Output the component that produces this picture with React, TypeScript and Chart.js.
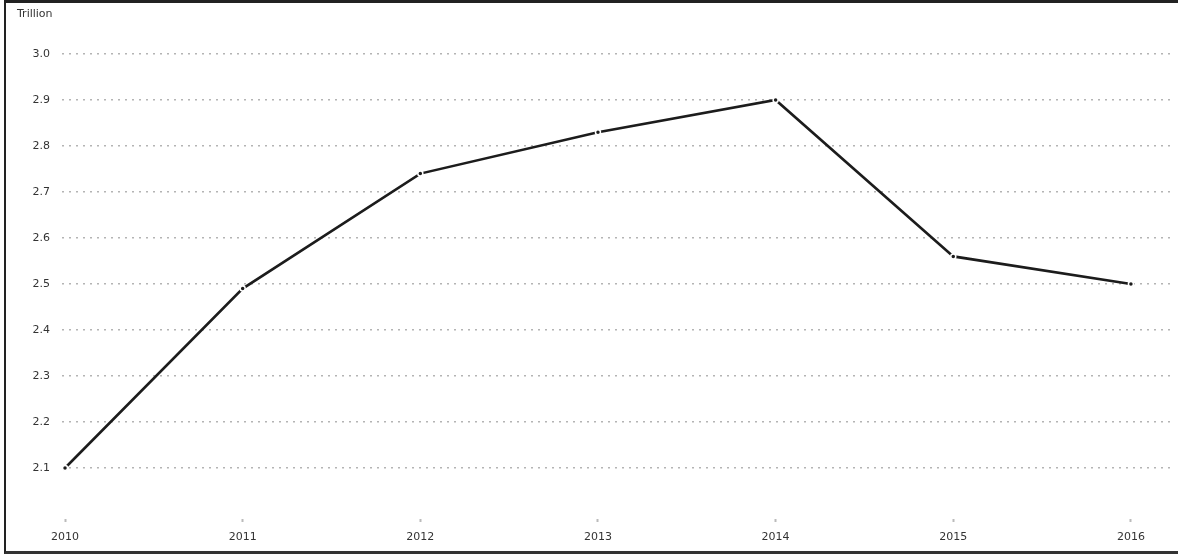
import React, { useEffect, useRef } from "react";
import { Chart, registerables } from "chart.js";

Chart.register(...registerables);

const years = [2010, 2011, 2012, 2013, 2014, 2015, 2016];
const values = [2.1, 2.49, 2.74, 2.83, 2.9, 2.56, 2.5];
const yTicks = [2.1, 2.2, 2.3, 2.4, 2.5, 2.6, 2.7, 2.8, 2.9, 3.0];
const unitLabel = "Trillion";

const FONT = "'DejaVu Sans', Verdana, sans-serif";

export default function App() {
  const canvasRef = useRef<HTMLCanvasElement | null>(null);

  useEffect(() => {
    if (!canvasRef.current) return;
    const chart = new Chart(canvasRef.current, {
      type: "line",
      data: {
        datasets: [
          {
            data: years.map((yr, i) => ({ x: yr, y: values[i] })),
            borderColor: "#1c1c1c",
            borderWidth: 2.6,
            pointRadius: 2.5,
            pointBackgroundColor: "#1c1c1c",
            pointBorderColor: "#ffffff",
            pointBorderWidth: 1.5,
            tension: 0,
          },
        ],
      },
      options: {
        animation: false,
        responsive: true,
        maintainAspectRatio: false,
        layout: { padding: { top: 54, right: 8, left: 0, bottom: 0 } },
        plugins: { legend: { display: false }, tooltip: { enabled: false } },
        scales: {
          x: {
            type: "linear",
            min: 2009.983,
            max: 2016.22,
            afterBuildTicks: (scale: any) => {
              scale.ticks = years.map((v) => ({ value: v }));
            },
            afterFit: (scale: any) => {
              scale.height = 40;
            },
            border: { display: false },
            grid: {
              drawOnChartArea: false,
              drawTicks: true,
              tickLength: 8,
              tickColor: "#bbbbbb",
              tickWidth: 2,
              tickBorderDash: [0, 5, 3, 100],
            },
            ticks: {
              padding: 9,
              color: "#333333",
              font: { family: FONT, size: 11 },
              maxRotation: 0,
              callback: (v: any) => String(v),
            },
          },
          y: {
            min: 2.0,
            max: 3.0,
            afterBuildTicks: (scale: any) => {
              scale.ticks = yTicks.map((v) => ({ value: v }));
            },
            afterFit: (scale: any) => {
              scale.width = 62;
            },
            border: { display: false, dash: [2, 5] },
            grid: {
              drawTicks: false,
              color: "#b4b4b4",
              lineWidth: 1.5,
            },
            ticks: {
              padding: 12,
              color: "#333333",
              font: { family: FONT, size: 11 },
              callback: (v: any) => Number(v).toFixed(1),
            },
          },
        },
      },
    });
    return () => chart.destroy();
  }, []);

  return (
    <div
      style={{
        position: "fixed",
        left: 0,
        top: 0,
        width: 1178,
        height: 554,
        background: "#fff",
        overflow: "hidden",
      }}
    >
      <canvas ref={canvasRef} style={{ position: "absolute", left: 0, top: 0 }} />
      <div
        style={{
          position: "absolute",
          left: 17,
          top: 7,
          fontFamily: FONT,
          fontSize: 11,
          color: "#333",
        }}
      >
        {unitLabel}
      </div>
      <div
        style={{
          position: "absolute",
          left: 4,
          top: 0,
          width: 1180,
          height: 554,
          boxSizing: "border-box",
          borderTop: "3px solid #222",
          borderLeft: "2px solid #222",
          borderBottom: "3px solid #333",
          pointerEvents: "none",
        }}
      />
    </div>
  );
}
